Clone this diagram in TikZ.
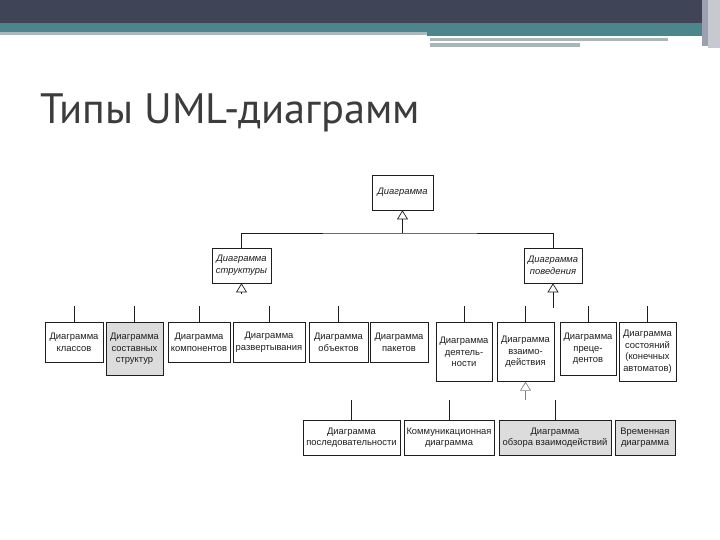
\documentclass[tikz,border=0pt]{standalone}
\usepackage{fontspec}
\setmainfont{Liberation Sans}
\newfontfamily\titlefont{PT Sans}
\usetikzlibrary{arrows.meta}
\definecolor{bardark}{HTML}{3F4556}
\definecolor{barteal}{HTML}{4A868C}
\definecolor{barlight}{HTML}{A9B9BD}
\definecolor{bargray}{HTML}{A8B6B6}
\definecolor{edgeA}{HTML}{9DA0B0}
\definecolor{edgeB}{HTML}{C8C8D0}
\definecolor{titlegray}{HTML}{3C3C3C}
\definecolor{boxgray}{HTML}{DCDCDC}
\definecolor{inkcol}{HTML}{1E1E1E}
\tikzset{
  umlbox/.style={draw=inkcol, line width=0.7pt, align=center, inner sep=1pt,
    text=inkcol, font=\fontsize{9.4}{11.6}\selectfont},
  umlabs/.style={umlbox, font=\fontsize{9.4}{11.6}\selectfont\itshape},
  shaded/.style={fill=boxgray},
  link/.style={draw=inkcol, line width=0.7pt},
  genlink/.style={link, -{Triangle[open, width=11pt, length=9pt]}},
}
\begin{document}
\begin{tikzpicture}[x=1pt, y=-1pt]
\useasboundingbox (0,0) rectangle (720,540);
\fill[white] (0,0) rectangle (720,540);
% top bar
\fill[bardark] (0,0) rectangle (720,23);
\fill[barteal] (0,23) rectangle (705,32);
\fill[barlight] (0,32) rectangle (427,35);
\fill[barteal] (427,32) rectangle (705,36);
\fill[bargray] (430,38) rectangle (668,41);
\fill[bargray] (430,43) rectangle (580,47);
\fill[edgeA] (702,0) rectangle (708,46);
\fill[edgeB] (708,0) rectangle (720,48);
% title
\node[anchor=base west, inner sep=0pt, text=titlegray, font=\titlefont\fontsize{42.5}{46}\selectfont] (title) at (40,124) {Типы UML-диаграмм};
% level 1 and 2
\node[umlabs, minimum width=61pt, minimum height=35pt] (top) at (402.5,192.5) {Диаграмма};
\node[umlabs, minimum width=59pt, minimum height=35pt] (struct) at (241.5,265.5) {Диаграмма\\структуры};
\node[umlabs, minimum width=58pt, minimum height=35pt] (behav) at (553,265.5) {Диаграмма\\поведения};
\coordinate (bus1) at (402.5,233);
\draw[link] (struct.north) |- (bus1) -| (behav.north);
\draw[genlink] (bus1) -- (top.south);
\coordinate (sfree) at (241.5,294);
\draw[genlink] (sfree) -- (struct.south);
\coordinate (bfree) at (553,308);
\draw[genlink] (bfree) -- (behav.south);
% level 3
\node[umlbox, anchor=north, minimum width=58pt, minimum height=40pt] (classes) at (74,322) {Диаграмма\\классов};
\node[umlbox, shaded, anchor=north, minimum width=57pt, minimum height=53pt] (composite) at (134.5,322) {Диаграмма\\составных\\структур};
\node[umlbox, anchor=north, minimum width=62pt, minimum height=40pt] (components) at (199,322) {Диаграмма\\компонентов};
\node[umlbox, anchor=north, minimum width=72pt, minimum height=40pt] (deploy) at (269,322) {Диаграмма\\развертывания};
\node[umlbox, anchor=north, minimum width=59pt, minimum height=40pt] (objects) at (338.5,322) {Диаграмма\\объектов};
\node[umlbox, anchor=north, minimum width=58pt, minimum height=40pt] (packages) at (399,322) {Диаграмма\\пакетов};
\node[umlbox, anchor=north, minimum width=56pt, minimum height=59pt] (activity) at (464,322) {Диаграмма\\деятель-\\ности};
\node[umlbox, anchor=north, minimum width=57pt, minimum height=59pt] (interact) at (525.5,322) {Диаграмма\\взаимо-\\действия};
\node[umlbox, anchor=north, minimum width=56pt, minimum height=53pt] (usecase) at (588,322) {Диаграмма\\преце-\\дентов};
\node[umlbox, anchor=north, minimum width=57pt, minimum height=59pt] (state) at (647.5,322) {Диаграмма\\состояний\\(конечных\\автоматов)};
\foreach \n in {classes,composite,components,deploy,objects,activity,interact,usecase,state}{
  \coordinate (\n-up) at ([yshift=16pt]\n.north);
  \draw[link] (\n.north) -- (\n-up);
}
% level 4
\node[umlbox, anchor=north, minimum width=97pt, minimum height=35pt] (sequence) at (351.5,420) {Диаграмма\\последовательности};
\node[umlbox, anchor=north, minimum width=90pt, minimum height=35pt] (comm) at (449,420) {Коммуникационная\\диаграмма};
\node[umlbox, shaded, anchor=north, minimum width=112pt, minimum height=35pt] (overview) at (555,420) {Диаграмма\\обзора взаимодействий};
\node[umlbox, shaded, anchor=north, minimum width=60pt, minimum height=35pt] (timing) at (645,420) {Временная\\диаграмма};
\foreach \n in {sequence,comm,overview}{
  \coordinate (\n-up) at ([yshift=20pt]\n.north);
  \draw[link] (\n.north) -- (\n-up);
}
\coordinate (ifree) at (525.5,400);
\draw[genlink, draw=gray] (ifree) -- (interact.south);
\end{tikzpicture}
\end{document}
